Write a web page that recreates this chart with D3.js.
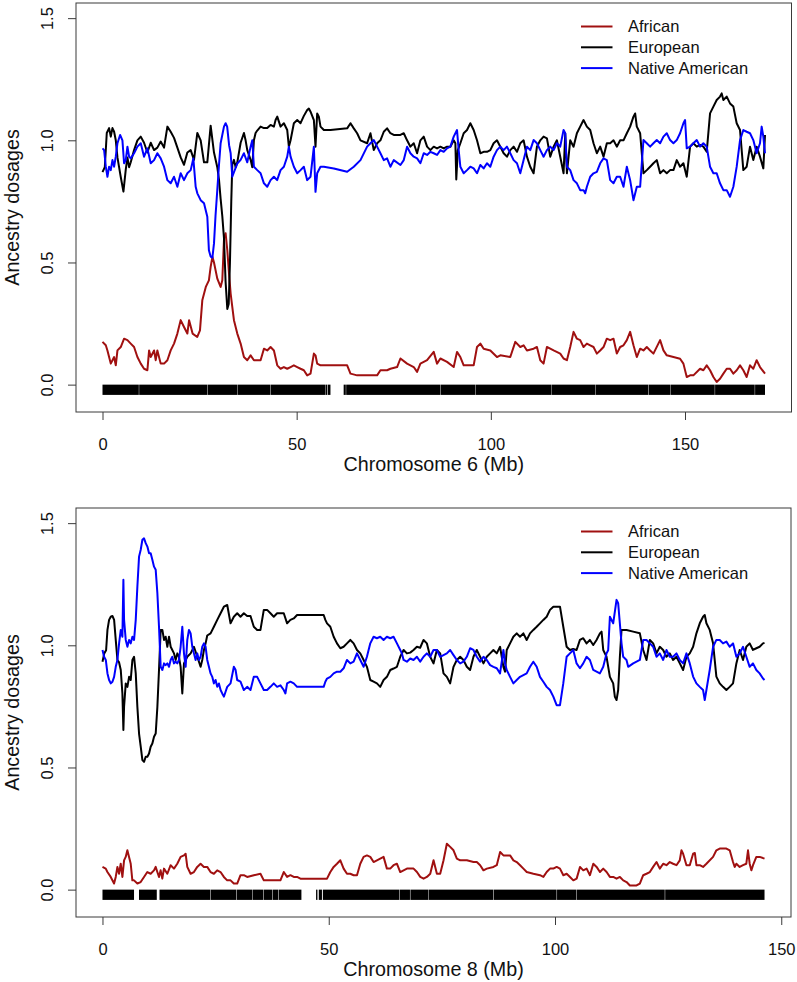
<!DOCTYPE html>
<html>
<head>
<meta charset="utf-8">
<script src="https://cdn.jsdelivr.net/npm/d3@7"></script>
<style>
  html, body { margin: 0; padding: 0; background: #fff; }
  svg { display: block; font-family: "Liberation Sans", Arial, Helvetica, sans-serif; }
</style>
</head>
<body>
<svg id="chart" width="797" height="982"></svg>
<script>
// ---------------- DATA ----------------
const seriesNames = ["African", "European", "Native American"];
const xTicks = [0, 50, 100, 150];
const yTicks = [0, 0.5, 1.0, 1.5];
const yTickLabels = ["0.0", "0.5", "1.0", "1.5"];
const panelTitles = ["Chromosome 6 (Mb)", "Chromosome 8 (Mb)"];
const chromLengths = [170.6, 146.3];

const chr6African = [[0,0.175],[0.85,0.161],[1.27,0.14],[1.70,0.113],[2.13,0.086],[2.99,0.113],[3.42,0.079],[3.85,0.14],[4.70,0.154],[5.56,0.188],[6.42,0.182],[7.27,0.168],[8.13,0.154],[8.99,0.113],[9.85,0.086],[10.70,0.065],[11.56,0.059],[12.0,0.14],[12.42,0.113],[13.28,0.14],[13.7,0.10],[14.13,0.14],[14.99,0.086],[15.85,0.086],[16.71,0.10],[17.56,0.14],[18.42,0.168],[19.28,0.209],[20.13,0.264],[20.99,0.236],[21.85,0.209],[22.3,0.264],[23.2,0.209],[24.4,0.195],[25.1,0.222],[25.7,0.345],[26.6,0.40],[27.4,0.427],[27.85,0.482],[28.3,0.523],[28.71,0.50],[29.56,0.434],[30.42,0.40],[30.85,0.427],[31.3,0.60],[31.7,0.62],[32.14,0.55],[32.6,0.45],[33.0,0.373],[33.42,0.318],[33.85,0.264],[34.71,0.209],[35.57,0.168],[36.42,0.113],[37.28,0.10],[38.14,0.120],[38.99,0.10],[39.85,0.10],[40.71,0.10],[41.57,0.147],[42.42,0.140],[43.28,0.154],[44.14,0.140],[45.0,0.079],[45.85,0.065],[46.71,0.072],[47.57,0.065],[48.43,0.072],[49.28,0.079],[50.14,0.072],[51.0,0.065],[51.85,0.059],[52.71,0.038],[53.57,0.045],[54.43,0.127],[54.85,0.120],[55.28,0.086],[56.14,0.079],[59.57,0.079],[63.0,0.079],[63.86,0.045],[65.57,0.038],[68.14,0.038],[70.71,0.038],[71.57,0.059],[73.28,0.059],[74.14,0.065],[75.86,0.072],[76.72,0.107],[78.43,0.086],[80.15,0.072],[81.01,0.052],[81.86,0.086],[83.58,0.10],[85.29,0.134],[86.15,0.086],[87.01,0.107],[88.72,0.093],[90.44,0.072],[91.29,0.134],[92.15,0.113],[93.01,0.079],[95.58,0.079],[96.44,0.154],[97.30,0.168],[98.15,0.147],[99.87,0.140],[101.58,0.113],[102.44,0.120],[105.01,0.113],[106.3,0.175],[107.58,0.154],[108.44,0.161],[109.30,0.140],[111.01,0.147],[111.87,0.154],[112.73,0.10],[113.58,0.086],[114.44,0.154],[115.30,0.147],[116.16,0.140],[117.87,0.127],[118.73,0.107],[119.59,0.10],[120.44,0.154],[121.30,0.216],[122.16,0.188],[123.01,0.182],[123.87,0.154],[124.73,0.168],[125.59,0.161],[126.44,0.154],[127.30,0.127],[128.16,0.140],[129.02,0.154],[129.87,0.188],[130.73,0.182],[131.59,0.188],[132.44,0.127],[133.30,0.154],[134.16,0.161],[135.02,0.182],[135.87,0.216],[136.73,0.161],[137.59,0.113],[138.45,0.147],[139.30,0.140],[140.16,0.154],[141.02,0.140],[141.87,0.127],[143.59,0.182],[144.45,0.140],[145.30,0.120],[147.02,0.113],[148.73,0.106],[149.59,0.086],[150.45,0.031],[151.31,0.038],[152.16,0.038],[153.88,0.065],[154.73,0.059],[155.59,0.079],[156.45,0.059],[157.31,0.031],[158.16,0.011],[159.02,0.024],[159.88,0.045],[160.74,0.065],[161.59,0.065],[162.45,0.045],[163.31,0.059],[164.17,0.079],[165.02,0.059],[165.88,0.031],[166.74,0.079],[167.59,0.065],[168.45,0.10],[169.31,0.072],[170.6,0.045]];

const chr6European = [[0,0.87],[0.59,0.89],[1.10,1.03],[1.70,1.05],[2.13,1.015],[2.56,1.05],[2.99,1.035],[3.42,1.0],[3.85,0.93],[4.27,0.89],[4.70,0.85],[5.39,0.79],[5.99,0.88],[6.42,0.93],[6.85,0.89],[7.27,0.91],[8.13,0.96],[8.99,1.0],[9.85,1.015],[10.70,0.99],[11.56,0.95],[12.42,0.99],[13.28,0.96],[14.13,0.97],[14.99,0.995],[15.85,0.97],[16.71,1.056],[17.56,1.035],[18.42,1.01],[19.28,0.97],[20.13,0.93],[20.99,0.90],[21.85,0.95],[22.71,0.96],[23.56,0.92],[24.42,1.03],[25.28,1.0],[26.14,0.91],[26.99,0.91],[27.85,1.06],[28.71,0.95],[29.56,0.89],[29.99,0.84],[30.42,0.76],[30.85,0.69],[31.28,0.60],[31.7,0.42],[32.14,0.31],[32.5,0.33],[32.82,0.5],[33.16,0.75],[33.42,0.90],[33.85,0.92],[34.28,0.89],[34.71,0.91],[35.57,0.99],[36.42,1.03],[36.85,1.0],[37.28,0.96],[38.14,0.92],[38.57,0.89],[38.99,1.0],[39.42,1.03],[39.85,1.04],[40.71,1.056],[41.57,1.05],[42.42,1.05],[43.28,1.063],[44.14,1.056],[44.57,1.083],[45.0,1.097],[45.85,1.056],[46.71,1.07],[47.57,1.042],[47.99,0.974],[48.43,1.0],[49.28,1.07],[50.14,1.083],[51.0,1.07],[51.85,1.10],[52.71,1.124],[53.14,1.13],[53.57,1.117],[54.43,1.083],[54.85,0.974],[55.28,1.11],[55.71,1.097],[56.14,1.056],[57.0,1.042],[58.71,1.042],[63.0,1.049],[63.86,1.07],[64.71,1.049],[65.57,1.029],[66.43,1.0],[68.14,0.988],[69.0,1.029],[69.86,0.96],[70.71,0.988],[71.57,1.0],[72.43,1.035],[73.28,1.049],[74.14,1.029],[75.0,1.022],[76.72,1.022],[77.58,1.029],[78.43,1.0],[79.29,0.974],[80.15,0.988],[81.01,0.947],[81.86,1.0],[82.72,1.015],[83.58,0.974],[84.44,0.96],[85.29,0.974],[86.15,0.967],[87.01,0.974],[87.86,0.967],[88.72,0.974],[89.58,0.974],[90.44,1.0],[90.87,0.988],[91.1,0.84],[91.5,0.96],[92.15,0.988],[93.01,1.029],[93.87,1.042],[94.72,1.07],[95.58,1.042],[96.44,1.0],[97.30,0.947],[98.15,0.953],[99.01,0.953],[99.87,0.96],[100.72,0.988],[101.58,1.0],[102.44,0.974],[103.30,0.947],[104.15,0.933],[105.01,0.96],[105.87,0.974],[106.73,0.953],[107.58,0.988],[108.44,1.0],[109.30,0.933],[110.15,0.892],[111.01,0.865],[111.87,0.974],[112.73,1.0],[113.58,1.015],[114.44,1.008],[115.30,0.933],[116.16,0.974],[117.01,1.0],[117.87,0.933],[118.73,0.865],[119.16,1.029],[119.59,0.865],[120.44,1.0],[121.30,0.974],[122.16,1.029],[123.01,1.056],[123.87,1.083],[124.73,1.056],[125.59,1.042],[126.44,0.988],[127.30,0.947],[128.16,0.974],[129.02,0.933],[129.87,0.988],[130.73,0.988],[131.59,1.0],[132.44,0.974],[133.30,1.0],[134.16,1.0],[135.02,1.029],[135.87,1.056],[136.73,1.097],[137.16,1.11],[137.59,1.056],[138.45,1.029],[139.30,0.865],[140.16,0.878],[141.02,0.892],[141.87,0.906],[142.73,0.919],[143.59,0.865],[144.45,0.878],[145.30,0.865],[146.16,0.878],[147.02,0.878],[147.88,0.919],[148.73,0.892],[149.59,0.906],[150.45,0.851],[151.31,0.974],[152.16,0.988],[153.02,0.974],[153.88,0.981],[154.73,0.974],[155.59,0.953],[156.45,1.11],[157.31,1.138],[158.16,1.165],[159.02,1.179],[159.45,1.192],[159.88,1.165],[160.74,1.179],[161.59,1.151],[162.45,1.138],[163.31,1.07],[164.17,1.042],[165.02,0.878],[165.88,0.892],[166.74,0.974],[167.59,0.919],[168.45,0.974],[169.31,0.933],[170.17,0.885],[170.6,1.022]];

const chr6NativeAmerican = [[0,0.967],[0.42,0.96],[0.85,0.892],[1.27,0.851],[1.70,0.892],[2.13,0.878],[2.56,0.919],[2.99,0.892],[3.42,0.933],[3.85,0.988],[4.53,1.022],[5.13,1.0],[5.56,0.906],[5.99,0.919],[6.42,0.974],[6.85,0.933],[7.27,0.926],[8.13,0.947],[8.99,0.974],[9.85,0.988],[10.70,0.933],[11.56,0.967],[12.42,0.906],[13.28,0.919],[14.13,0.947],[14.99,0.926],[15.85,0.892],[16.71,0.837],[17.56,0.824],[18.42,0.851],[19.28,0.810],[20.13,0.865],[20.99,0.837],[21.85,0.865],[22.71,0.878],[23.39,0.926],[23.99,0.810],[24.42,0.783],[25.28,0.755],[26.14,0.742],[26.99,0.687],[27.4,0.55],[27.85,0.524],[28.3,0.52],[28.71,0.578],[29.1,0.69],[29.56,0.796],[30.0,0.90],[30.42,0.988],[31.28,1.056],[31.7,1.07],[32.1,1.056],[32.6,0.98],[33.0,0.947],[33.42,0.851],[33.85,0.87],[34.71,0.905],[35.57,0.92],[36.42,0.947],[37.28,0.91],[38.14,0.974],[38.57,1.0],[38.99,0.892],[39.85,0.878],[40.71,0.865],[41.57,0.824],[42.42,0.810],[43.28,0.837],[44.14,0.851],[44.97,0.837],[45.85,0.878],[46.71,0.892],[47.57,0.933],[47.99,0.974],[48.43,0.933],[49.28,0.892],[50.14,0.865],[51.0,0.878],[51.85,0.892],[52.71,0.837],[53.57,0.851],[54.43,0.974],[54.85,0.789],[55.28,0.865],[56.14,0.892],[57.0,0.892],[59.57,0.885],[63.0,0.871],[64.71,0.892],[66.43,0.919],[68.14,0.974],[69.0,0.988],[69.86,1.001],[70.71,0.974],[71.57,0.947],[72.43,0.919],[73.28,0.926],[74.14,0.892],[75.0,0.919],[76.72,0.899],[77.58,0.919],[78.43,0.974],[79.29,0.947],[80.15,0.933],[81.01,0.926],[81.86,0.906],[82.72,0.947],[83.58,0.940],[84.44,0.953],[85.29,0.947],[86.15,0.940],[87.01,0.960],[87.86,0.953],[88.72,0.967],[89.58,0.974],[90.44,1.015],[91.29,1.042],[91.72,0.960],[92.15,0.892],[93.01,0.865],[93.87,0.878],[94.72,0.892],[95.58,0.885],[96.44,0.865],[97.30,0.899],[98.15,0.885],[99.01,0.906],[99.87,0.892],[100.72,0.933],[101.58,0.960],[102.44,0.974],[103.30,0.960],[104.15,0.974],[105.01,0.947],[105.87,0.919],[106.73,0.906],[107.58,0.865],[108.44,0.919],[109.30,0.974],[110.15,0.960],[111.01,1.001],[111.87,0.988],[112.73,0.960],[113.58,0.933],[114.44,0.960],[115.30,0.974],[116.16,0.960],[117.01,0.988],[117.87,0.974],[118.73,1.042],[119.16,1.029],[119.59,0.892],[120.44,0.878],[121.30,0.837],[122.16,0.824],[123.01,0.796],[123.87,0.796],[124.30,0.783],[124.73,0.810],[125.59,0.851],[126.44,0.865],[127.30,0.871],[128.16,0.906],[129.02,0.926],[129.87,0.919],[130.73,0.837],[131.59,0.824],[132.44,0.851],[133.30,0.851],[134.16,0.810],[135.02,0.892],[135.87,0.837],[136.73,0.755],[137.59,0.810],[138.45,0.810],[139.30,1.001],[140.16,0.988],[141.02,0.974],[141.87,0.988],[142.73,1.001],[143.59,0.988],[144.45,1.015],[145.30,1.029],[146.16,1.001],[147.02,0.988],[147.88,1.001],[148.73,1.029],[149.59,1.070],[150.02,1.083],[150.45,0.967],[151.31,0.974],[152.16,0.988],[153.02,1.001],[153.88,0.974],[154.73,0.988],[155.59,0.974],[156.45,0.892],[157.31,0.865],[158.16,0.865],[159.02,0.824],[159.88,0.796],[160.74,0.796],[161.59,0.769],[162.45,0.810],[163.31,0.892],[164.17,1.001],[165.02,1.042],[165.88,1.035],[166.74,1.029],[167.59,1.001],[168.45,0.947],[169.31,0.988],[169.74,1.056],[170.17,1.015],[170.6,0.947]];

const chr8African = [[0,0.093],[0.72,0.086],[1.09,0.072],[1.82,0.052],[2.56,0.025],[2.93,0.052],[3.30,0.093],[3.66,0.065],[4.03,0.106],[4.40,0.052],[4.77,0.12],[5.13,0.134],[5.50,0.161],[5.87,0.134],[6.24,0.106],[6.60,0.038],[6.97,0.038],[7.71,0.025],[8.44,0.031],[9.18,0.052],[9.91,0.072],[10.65,0.065],[11.38,0.079],[11.75,0.093],[12.12,0.072],[12.49,0.052],[12.85,0.079],[13.22,0.045],[13.59,0.086],[14.33,0.065],[15.06,0.10],[15.80,0.086],[16.53,0.106],[17.27,0.134],[18.0,0.140],[18.37,0.147],[18.74,0.093],[19.47,0.065],[20.21,0.072],[20.94,0.093],[21.68,0.106],[22.41,0.093],[23.15,0.093],[23.88,0.072],[24.62,0.065],[25.35,0.079],[26.09,0.072],[26.82,0.052],[27.56,0.038],[28.30,0.038],[29.03,0.025],[29.77,0.025],[30.50,0.059],[31.24,0.059],[31.97,0.052],[33.44,0.059],[34.91,0.065],[35.65,0.038],[36.38,0.038],[37.85,0.038],[39.32,0.038],[40.06,0.072],[40.80,0.052],[41.53,0.059],[42.27,0.052],[43.0,0.052],[43.74,0.045],[47.41,0.045],[49.62,0.045],[50.35,0.072],[51.09,0.093],[51.82,0.106],[52.56,0.12],[53.29,0.086],[54.03,0.065],[54.76,0.065],[55.50,0.059],[56.24,0.059],[56.97,0.106],[57.70,0.134],[58.44,0.140],[59.18,0.134],[59.91,0.113],[60.65,0.12],[61.38,0.127],[62.12,0.134],[62.85,0.086],[63.59,0.086],[64.32,0.10],[65.06,0.106],[65.80,0.072],[67.28,0.086],[68.75,0.086],[69.49,0.072],[70.22,0.052],[70.96,0.045],[71.69,0.052],[72.43,0.065],[73.16,0.12],[73.90,0.065],[74.63,0.065],[75.37,0.12],[76.10,0.188],[76.84,0.175],[77.57,0.161],[78.31,0.127],[79.05,0.12],[80.52,0.12],[81.99,0.113],[82.72,0.113],[83.46,0.10],[84.19,0.079],[84.93,0.086],[86.40,0.093],[87.13,0.10],[87.87,0.154],[88.60,0.140],[89.34,0.140],[90.07,0.140],[90.81,0.12],[91.54,0.113],[92.28,0.10],[93.02,0.086],[93.75,0.072],[95.22,0.065],[96.69,0.059],[97.43,0.052],[98.16,0.072],[98.90,0.086],[99.63,0.086],[100.37,0.093],[101.10,0.086],[101.84,0.059],[102.58,0.065],[103.31,0.052],[104.05,0.038],[104.78,0.045],[105.52,0.093],[106.25,0.079],[106.99,0.086],[107.72,0.059],[108.46,0.106],[109.19,0.093],[109.93,0.072],[110.66,0.086],[111.40,0.072],[112.13,0.052],[112.87,0.052],[113.60,0.045],[114.34,0.052],[115.08,0.038],[115.81,0.031],[116.55,0.017],[117.28,0.017],[118.02,0.017],[118.75,0.025],[119.49,0.059],[120.22,0.065],[120.96,0.072],[121.69,0.093],[122.43,0.113],[123.16,0.086],[123.90,0.106],[124.63,0.10],[125.37,0.113],[126.10,0.106],[126.84,0.10],[127.57,0.12],[127.94,0.161],[128.31,0.147],[129.05,0.10],[129.78,0.10],[130.52,0.147],[130.9,0.15],[131.25,0.10],[131.99,0.10],[132.72,0.093],[133.46,0.106],[134.93,0.134],[135.66,0.161],[136.40,0.168],[137.87,0.168],[138.61,0.161],[139.34,0.113],[139.71,0.093],[140.08,0.106],[140.81,0.093],[141.55,0.10],[142.28,0.106],[142.65,0.161],[143.02,0.106],[143.39,0.079],[143.76,0.10],[144.49,0.134],[145.23,0.134],[146.3,0.127]];

const chr8European = [[0,0.933],[0.39,0.967],[0.8,0.98],[1.1,1.063],[1.46,1.104],[1.83,1.117],[2.2,1.12],[2.57,1.104],[2.93,1.022],[3.30,0.94],[3.67,0.93],[4.04,0.899],[4.40,0.803],[4.62,0.653],[4.77,0.748],[5.14,0.844],[5.51,0.83],[5.88,0.871],[6.24,0.858],[6.61,0.94],[6.98,0.953],[7.35,0.885],[7.71,0.748],[8.08,0.639],[8.45,0.585],[8.82,0.530],[9.18,0.523],[9.55,0.544],[9.92,0.544],[10.29,0.557],[10.65,0.585],[11.02,0.598],[11.39,0.626],[11.76,0.639],[12.13,0.748],[12.49,0.899],[12.86,1.063],[13.23,1.063],[13.60,1.022],[13.96,1.035],[14.33,0.994],[14.70,1.035],[15.07,0.994],[15.43,0.981],[15.80,0.967],[16.17,0.94],[16.54,0.967],[16.90,0.953],[17.27,0.912],[17.64,0.803],[18.01,0.926],[18.38,0.94],[18.74,0.953],[19.48,0.967],[20.21,0.994],[20.95,0.953],[21.68,0.912],[22.05,0.94],[22.42,0.981],[22.79,1.008],[23.15,1.04],[23.89,1.049],[24.62,1.076],[25.36,1.104],[26.10,1.131],[26.83,1.158],[27.57,1.165],[28.30,1.09],[29.03,1.117],[29.77,1.131],[30.50,1.117],[31.24,1.131],[31.97,1.12],[32.71,1.12],[33.44,1.076],[34.18,1.063],[34.91,1.063],[35.65,1.145],[36.38,1.145],[37.12,1.131],[37.85,1.117],[38.59,1.131],[39.33,1.131],[40.06,1.131],[40.80,1.09],[41.53,1.104],[42.27,1.11],[43.0,1.124],[44.47,1.124],[48.15,1.124],[48.88,1.124],[49.25,1.104],[49.62,1.09],[50.35,1.076],[51.09,1.035],[51.82,1.008],[52.56,0.988],[53.29,0.994],[54.03,1.008],[54.77,1.022],[55.50,1.008],[56.24,0.981],[56.97,0.967],[57.71,0.94],[58.44,0.912],[59.18,0.858],[59.91,0.851],[60.65,0.844],[61.38,0.83],[62.12,0.858],[62.86,0.871],[63.60,0.899],[64.32,0.905],[65.07,0.912],[65.80,0.953],[66.54,0.981],[67.27,0.967],[68.0,0.97],[68.74,0.981],[69.48,0.994],[70.2,0.99],[70.95,1.022],[71.68,1.008],[72.42,0.953],[73.15,0.926],[73.89,0.981],[74.63,0.967],[75.36,0.885],[76.10,0.871],[76.83,0.844],[77.57,0.912],[78.30,0.94],[79.04,0.953],[79.77,0.94],[80.51,0.912],[81.24,0.899],[81.98,0.953],[82.71,0.981],[83.45,0.953],[84.19,0.926],[84.92,0.953],[85.66,0.967],[86.39,0.981],[87.13,0.967],[87.86,0.994],[88.60,0.912],[88.96,0.892],[89.33,0.981],[90.07,1.008],[90.80,1.035],[91.54,1.049],[92.27,1.035],[93.01,1.049],[93.74,1.022],[94.48,1.049],[95.21,1.063],[95.95,1.076],[96.68,1.090],[97.42,1.104],[98.16,1.117],[98.89,1.145],[99.63,1.158],[100.36,1.158],[101.10,1.158],[101.83,1.076],[102.57,0.994],[103.30,0.981],[104.0,0.985],[104.77,0.981],[105.51,1.022],[106.24,1.029],[106.98,1.008],[107.71,1.022],[108.45,1.001],[109.18,1.022],[109.92,1.049],[110.29,1.056],[110.66,0.981],[111.39,0.953],[112.13,0.871],[112.86,0.844],[113.23,0.789],[113.60,0.776],[113.96,0.817],[114.33,0.95],[114.70,1.063],[115.81,1.063],[117.28,1.056],[118.75,1.049],[119.49,0.981],[120.22,0.94],[120.96,1.022],[121.69,1.008],[122.43,0.967],[123.16,0.994],[123.90,0.981],[124.63,0.953],[125.37,0.967],[126.10,0.94],[126.84,0.953],[127.58,0.926],[128.31,0.899],[129.05,0.953],[129.78,0.967],[130.52,0.994],[131.25,1.049],[131.99,1.09],[132.72,1.117],[133.09,1.124],[133.46,1.09],[134.19,1.063],[134.93,1.008],[135.66,0.872],[136.40,0.844],[137.13,0.83],[137.87,0.817],[138.60,0.83],[139.34,0.844],[140.08,0.926],[140.81,0.981],[141.55,0.94],[142.28,0.994],[143.02,1.008],[143.75,0.981],[144.49,0.988],[145.22,0.994],[145.96,1.008],[146.3,1.01]];

const chr8NativeAmerican = [[0,0.981],[0.36,0.953],[0.73,0.94],[1.1,0.885],[1.46,0.858],[1.83,0.844],[2.2,0.851],[2.57,0.871],[2.93,0.912],[3.30,0.94],[3.67,1.008],[4.04,1.063],[4.40,1.035],[4.62,1.268],[4.77,1.104],[5.14,1.022],[5.51,0.994],[5.88,1.022],[6.24,1.008],[6.61,1.035],[6.98,1.022],[7.35,1.104],[7.71,1.24],[8.08,1.363],[8.45,1.391],[8.82,1.432],[9.18,1.438],[9.55,1.418],[9.92,1.404],[10.29,1.377],[10.65,1.377],[11.02,1.35],[11.39,1.322],[11.76,1.309],[12.13,1.213],[12.49,1.076],[12.86,0.912],[13.23,0.899],[13.60,0.926],[13.96,0.919],[14.33,0.926],[14.70,0.912],[15.07,0.94],[15.43,0.953],[15.80,0.926],[16.17,0.933],[16.54,0.926],[16.90,0.94],[17.27,0.994],[17.64,1.076],[18.01,0.967],[18.38,0.912],[18.74,1.022],[19.11,1.063],[19.48,1.049],[19.85,0.994],[20.21,0.967],[20.58,0.94],[20.95,0.967],[21.32,0.94],[21.68,0.953],[22.05,0.994],[22.42,1.008],[22.79,0.994],[23.15,0.94],[23.52,0.912],[23.89,0.885],[24.26,0.871],[24.62,0.844],[24.99,0.858],[25.36,0.83],[25.73,0.844],[26.10,0.817],[26.46,0.803],[26.83,0.79],[27.2,0.81],[27.56,0.83],[28.30,0.844],[29.03,0.912],[29.4,0.90],[29.77,0.858],[30.50,0.851],[31.24,0.817],[31.97,0.83],[32.71,0.817],[33.44,0.871],[34.18,0.871],[34.91,0.844],[35.65,0.817],[36.38,0.817],[37.12,0.83],[37.85,0.844],[38.59,0.83],[39.33,0.836],[40.06,0.817],[40.43,0.803],[40.80,0.844],[41.53,0.851],[42.27,0.844],[43.0,0.83],[44.47,0.83],[48.15,0.83],[48.88,0.83],[49.25,0.851],[49.62,0.864],[50.35,0.871],[51.09,0.885],[51.82,0.892],[52.56,0.892],[53.29,0.906],[54.03,0.94],[54.77,0.926],[55.50,0.933],[56.24,0.967],[56.97,0.94],[57.71,0.912],[58.44,0.953],[59.18,1.008],[59.91,1.035],[60.65,1.029],[61.38,1.035],[62.12,1.022],[62.85,1.035],[63.59,1.029],[64.32,1.035],[65.07,1.008],[65.80,0.981],[66.17,0.967],[66.54,0.94],[67.27,0.933],[68.01,0.946],[68.74,0.94],[69.48,0.953],[70.21,0.933],[70.95,0.953],[71.68,0.967],[72.42,0.953],[73.15,0.981],[73.89,0.981],[74.63,0.953],[75.36,0.96],[76.10,0.967],[76.83,0.981],[77.57,0.96],[78.30,0.94],[79.04,0.926],[79.77,0.933],[80.51,0.953],[81.24,0.988],[81.98,0.981],[82.71,0.953],[83.45,0.933],[84.19,0.953],[84.92,0.94],[85.66,0.919],[86.39,0.912],[87.13,0.906],[87.86,0.885],[88.60,0.981],[88.96,0.926],[89.33,0.899],[90.07,0.871],[90.80,0.844],[91.54,0.858],[92.27,0.871],[93.01,0.878],[93.74,0.885],[94.48,0.912],[95.21,0.933],[95.95,0.912],[96.68,0.871],[97.42,0.851],[98.16,0.83],[98.89,0.817],[99.63,0.79],[100.36,0.755],[101.10,0.755],[101.83,0.844],[102.57,0.953],[103.30,0.967],[104.04,0.981],[104.77,0.926],[105.51,0.906],[106.24,0.926],[106.98,0.953],[107.71,0.94],[108.45,0.899],[109.18,0.892],[109.92,0.885],[110.66,0.912],[111.39,0.967],[111.75,0.98],[112.13,1.117],[112.86,1.09],[113.60,1.186],[113.96,1.172],[114.33,1.09],[114.70,1.008],[115.07,0.953],[115.80,0.94],[116.17,0.912],[117.28,0.926],[118.75,0.94],[119.49,1.022],[120.22,1.022],[120.96,1.008],[121.69,0.994],[122.43,0.953],[123.16,0.967],[123.90,0.94],[124.63,0.981],[125.37,0.953],[126.10,0.953],[126.84,0.967],[127.58,0.94],[128.31,0.926],[129.05,0.967],[129.78,0.926],[130.52,0.872],[131.25,0.844],[131.99,0.83],[132.72,0.817],[133.09,0.776],[133.46,0.817],[134.19,0.899],[134.93,0.994],[135.66,1.022],[136.40,1.022],[137.13,1.008],[137.87,1.015],[138.60,0.994],[139.34,1.008],[140.08,0.953],[140.81,0.967],[141.55,0.994],[142.28,0.953],[143.02,0.912],[143.75,0.926],[144.49,0.899],[145.22,0.885],[145.96,0.864],[146.3,0.858]];

// genotyped-marker coverage intervals (Mb), drawn as the black strip under each panel
const chr6Markers = [[0,9.35],[9.45,26.95],[27.05,34.65],[34.75,43.25],[43.35,57.3],[57.4,57.9],[58.05,58.7],[62.1,62.65],[62.75,86.95],[87.05,95.95],[96.05,115.65],[115.75,126.85],[126.95,140.55],[140.65,146.15],[146.25,157.65],[157.75,167.95],[168.05,170.6]];
const chr8Markers = [[0,6.97],[8.07,12.0],[12.6,23.85],[23.95,29.55],[29.65,33.05],[33.15,35.55],[35.65,37.55],[37.65,38.85],[38.95,43.96],[47.2,47.5],[47.8,48.5],[48.7,65.55],[65.65,67.95],[68.05,72.05],[72.15,86.35],[86.45,100.35],[100.45,104.75],[104.85,124.25],[124.35,146.3]];

// ---------------- DRAWING ----------------
const colors = { "African": "#a01010", "European": "#000000", "Native American": "#0000ff" };
const svg = d3.select("#chart");

const panels = [
  { top: 3, bottom: 412, left: 76, right: 791.5, xmax: chromLengths[0], title: panelTitles[0],
    series: [chr6African, chr6European, chr6NativeAmerican], markers: chr6Markers },
  { top: 508, bottom: 917, left: 76, right: 791, xmax: chromLengths[1], title: panelTitles[1],
    series: [chr8African, chr8European, chr8NativeAmerican], markers: chr8Markers }
];

const ylim = [-0.05, 1.5];

panels.forEach(p => {
  const xr = p.xmax;
  const x = d3.scaleLinear().domain([-0.04 * xr, 1.04 * xr]).range([p.left, p.right]);
  const yd = ylim[1] - ylim[0];
  const y = d3.scaleLinear().domain([ylim[0] - 0.04 * yd, ylim[1] + 0.04 * yd]).range([p.bottom, p.top]);
  const g = svg.append("g");

  // marker strip
  g.append("g").selectAll("rect").data(p.markers).join("rect")
    .attr("x", d => x(d[0]))
    .attr("width", d => Math.max(0.5, x(d[1]) - x(d[0])))
    .attr("y", y(0))
    .attr("height", y(-0.042) - y(0))
    .attr("fill", "#000");

  // lines
  const line = d3.line().x(d => x(d[0])).y(d => y(d[1]));
  p.series.forEach((s, i) => {
    g.append("path").datum(s)
      .attr("d", line)
      .attr("fill", "none")
      .attr("stroke", colors[seriesNames[i]])
      .attr("stroke-width", 2)
      .attr("stroke-linejoin", "round");
  });

  // box
  g.append("rect")
    .attr("x", p.left).attr("y", p.top)
    .attr("width", p.right - p.left).attr("height", p.bottom - p.top)
    .attr("fill", "none").attr("stroke", "#3a3a3a").attr("stroke-width", 1);

  // x axis
  const xa = g.append("g").attr("transform", `translate(0,${p.bottom})`)
    .call(d3.axisBottom(x).tickValues(xTicks).tickSize(8).tickSizeOuter(0).tickFormat(d3.format("d")));
  xa.select(".domain").remove();
  xa.selectAll(".tick line").attr("stroke", "#3a3a3a");
  xa.selectAll(".tick text").attr("y", 38).attr("dy", 0)
    .attr("font-size", "16.5px").attr("font-family", "Liberation Sans, Arial, sans-serif").attr("fill", "#111");

  // y axis
  const ya = g.append("g").attr("transform", `translate(${p.left},0)`)
    .call(d3.axisLeft(y).tickValues(yTicks).tickSize(8).tickSizeOuter(0).tickFormat((d, i) => yTickLabels[i]));
  ya.select(".domain").remove();
  ya.selectAll(".tick line").attr("stroke", "#3a3a3a");
  ya.selectAll(".tick text")
    .attr("x", 0).attr("y", -23).attr("dy", 0)
    .attr("transform", "rotate(-90)")
    .attr("text-anchor", "middle")
    .attr("font-size", "16.5px").attr("font-family", "Liberation Sans, Arial, sans-serif").attr("fill", "#111");

  // axis titles
  g.append("text")
    .attr("x", (p.left + p.right) / 2).attr("y", p.bottom + 59)
    .attr("text-anchor", "middle").attr("font-size", "19.7px").attr("fill", "#111")
    .text(p.title);
  g.append("text")
    .attr("transform", `translate(19,${(p.top + p.bottom) / 2}) rotate(-90)`)
    .attr("text-anchor", "middle").attr("font-size", "19.7px").attr("fill", "#111")
    .text("Ancestry dosages");

  // legend
  const lg = g.append("g").attr("transform", `translate(581,${p.top + 23.5})`);
  seriesNames.forEach((name, i) => {
    const row = lg.append("g").attr("transform", `translate(0,${i * 20.8})`);
    row.append("line").attr("x1", 0).attr("x2", 31.5).attr("y1", 0).attr("y2", 0)
      .attr("stroke", colors[name]).attr("stroke-width", 2);
    row.append("text").attr("x", 47).attr("y", 0).attr("dy", "0.36em")
      .attr("font-size", "16.5px").attr("fill", "#111").text(name);
  });
});
</script>
</body>
</html>
